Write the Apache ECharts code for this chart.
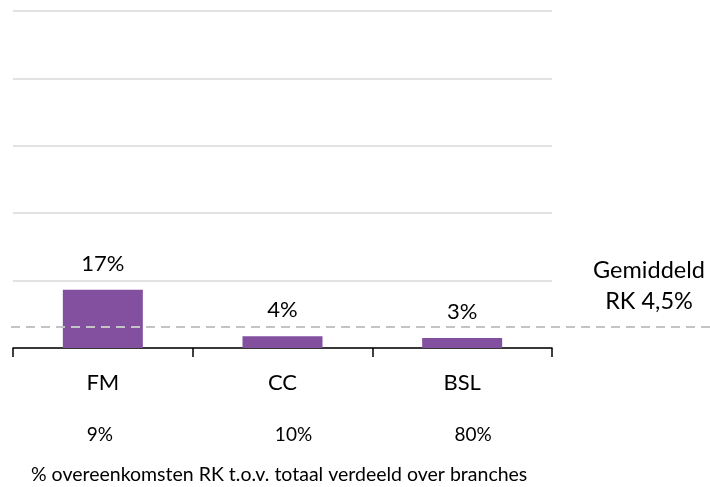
<!DOCTYPE html>
<html>
<head>
<meta charset="utf-8">
<script src="https://cdn.jsdelivr.net/npm/echarts@6/dist/echarts.min.js"></script>
<style>
  html, body { margin: 0; padding: 0; background: #fff; }
  #main { width: 710px; height: 487px; }
</style>
</head>
<body>
<div id="main"></div>
<script>
// branches and their values
var branches = ["FM", "CC", "BSL"];
var rkValues = [17.3, 3.5, 3.0];
var rkLabels = ["17%", "4%", "3%"];
var shares = ["9%", "10%", "80%"];
// dashed average line, as drawn in the picture
var avgLevel = 6.4;
var avgText = "Gemiddeld\nRK 4,5%";
var footText = "% overeenkomsten RK t.o.v. totaal verdeeld over branches";

var font = "Lato, 'Open Sans', sans-serif";
var myChart = echarts.init(document.getElementById("main"));

var option = {
  animation: false,
  grid: [
    { left: 13, right: 158, top: 11, bottom: 139 },
    { left: 11, right: 0, top: 11, bottom: 139 }
  ],
  xAxis: [
    {
      type: "category",
      gridIndex: 0,
      data: branches,
      axisLine: { lineStyle: { color: "#000", width: 1.5 } },
      axisTick: { show: true, length: 9, lineStyle: { color: "#000", width: 1.5 } },
      axisLabel: {
        margin: 22,
        formatter: function (v, i) {
          return "{a|" + v + "}\n{b" + i + "|" + shares[i] + "}";
        },
        rich: {
          a: { fontFamily: font, fontSize: 22, color: "#000", lineHeight: 26 },
          b0: { fontFamily: font, fontSize: 19, color: "#000", lineHeight: 78, padding: [0, 6, 0, 0] },
          b1: { fontFamily: font, fontSize: 19, color: "#000", lineHeight: 78, padding: [0, 0, 0, 22] },
          b2: { fontFamily: font, fontSize: 19, color: "#000", lineHeight: 78, padding: [0, 0, 0, 22] }
        }
      }
    },
    { type: "value", gridIndex: 1, min: 0, max: 1, show: false }
  ],
  yAxis: [
    {
      type: "value",
      gridIndex: 0,
      min: 0,
      max: 100,
      interval: 20,
      axisLabel: { show: false },
      axisLine: { show: false },
      axisTick: { show: false },
      splitLine: { lineStyle: { color: "#d9d9d9", width: 1.5 } }
    },
    { type: "value", gridIndex: 1, min: 0, max: 100, show: false }
  ],
  series: [
    {
      type: "bar",
      xAxisIndex: 0,
      yAxisIndex: 0,
      data: rkValues,
      barWidth: 80,
      itemStyle: { color: "#82509f" },
      label: {
        show: true,
        position: "top",
        distance: 15,
        fontFamily: font,
        fontSize: 22,
        color: "#000",
        formatter: function (p) { return rkLabels[p.dataIndex]; }
      }
    },
    {
      type: "line",
      xAxisIndex: 1,
      yAxisIndex: 1,
      data: [],
      symbol: "none",
      markLine: {
        silent: true,
        symbol: "none",
        label: { show: false },
        lineStyle: { color: "#c4c4c4", width: 2, type: [9, 6] },
        data: [{ yAxis: avgLevel }]
      }
    }
  ],
  graphic: [
    {
      type: "text",
      x: 649,
      y: 286,
      style: {
        text: avgText,
        fontFamily: font,
        fontSize: 23.5,
        lineHeight: 31,
        fill: "#000",
        align: "center",
        verticalAlign: "middle"
      }
    },
    {
      type: "text",
      x: 31,
      y: 475,
      style: {
        text: footText,
        fontFamily: font,
        fontSize: 19.5,
        fill: "#000",
        verticalAlign: "middle"
      }
    }
  ]
};
option && myChart.setOption(option);
</script>
</body>
</html>
